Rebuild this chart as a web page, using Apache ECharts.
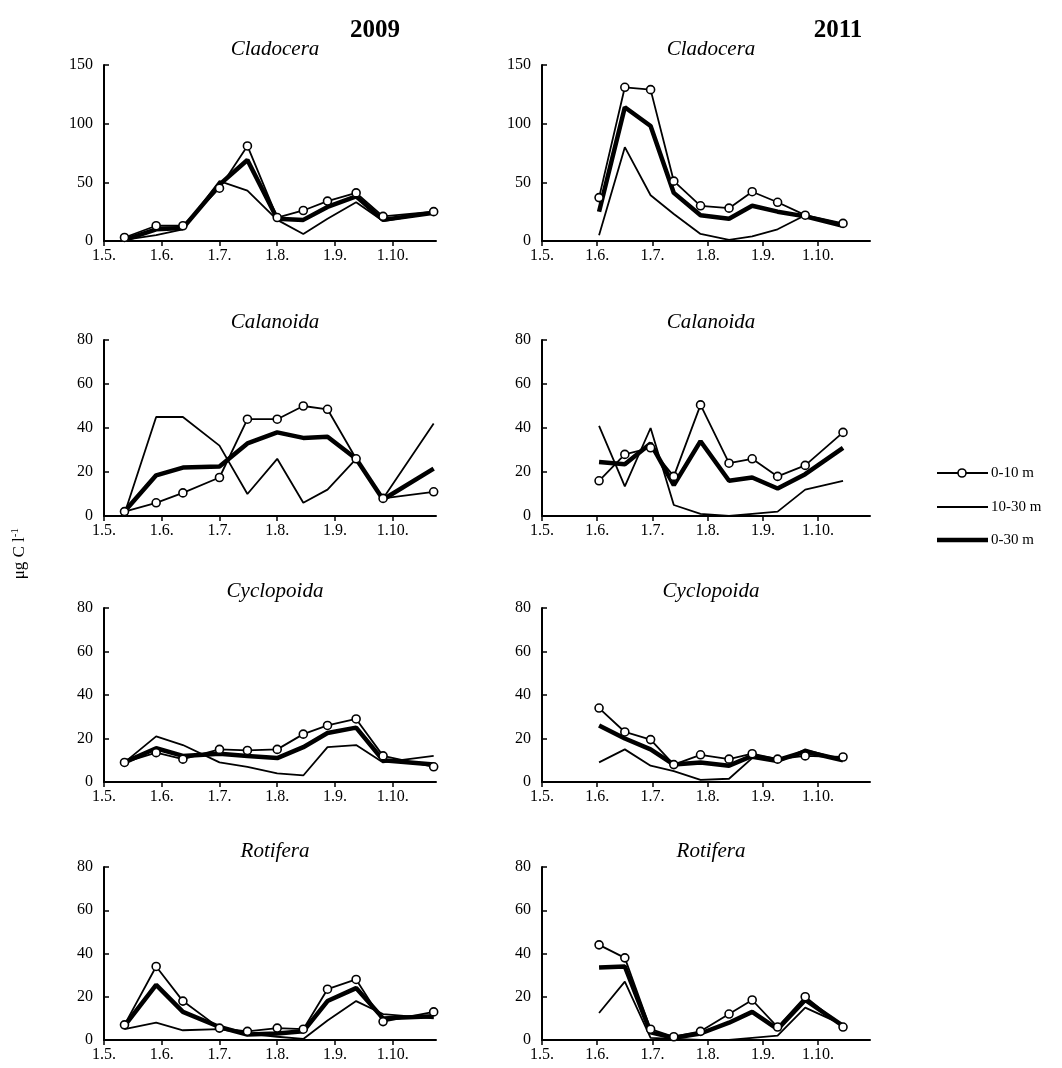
<!DOCTYPE html>
<html>
<head>
<meta charset="utf-8">
<script src="https://cdn.jsdelivr.net/npm/echarts@6/dist/echarts.min.js"></script>
<style>
html,body{margin:0;padding:0;background:#fff;}
#chart{width:1062px;height:1068px;}
</style>
</head>
<body>
<div id="chart"></div>
<script>
// ---------- DATA ----------
const years = ['2009', '2011'];
const taxa = ['Cladocera', 'Calanoida', 'Cyclopoida', 'Rotifera'];
const seriesNames = ['0-10 m', '10-30 m', '0-30 m'];
const monthLabels = ['1.5.', '1.6.', '1.7.', '1.8.', '1.9.', '1.10.'];

const dates2009 = ['12.5.', '29.5.', '12.6.', '1.7.', '16.7.', '1.8.', '15.8.', '28.8.', '12.9.', '26.9.', '23.10.'];
const dates2011 = ['2.6.', '16.6.', '30.6.', '13.7.', '28.7.', '13.8.', '26.8.', '9.9.', '24.9.', '15.10.'];

// Cladocera
const clad09_0_10  = [3, 13, 13, 45, 81, 20, 26, 34, 41, 21, 25];
const clad09_10_30 = [1, 5, 10, 51, 43, 18, 6, 19, 33, 17, 24];
const clad09_0_30  = [1, 10, 11, 48, 69, 19, 18, 29, 38, 18, 24];
const clad11_0_10  = [37, 131, 129, 51, 30, 28, 42, 33, 22, 15];
const clad11_10_30 = [5, 80, 39, 23, 6, 1, 4, 10, 22, 13];
const clad11_0_30  = [25, 114, 98, 41, 22, 19, 30, 25, 21, 13];
// Calanoida
const cal09_0_10  = [2, 6, 10.5, 17.5, 44, 44, 50, 48.5, 26, 8, 11];
const cal09_10_30 = [1, 45, 45, 32, 10, 26, 6, 12, 26, 8, 42];
const cal09_0_30  = [2, 18.5, 22, 22.5, 33, 38, 35.5, 36, 26, 7.5, 21.5];
const cal11_0_10  = [16, 28, 31, 18, 50.5, 24, 26, 18, 23, 38];
const cal11_10_30 = [41, 13.5, 40, 5, 1, 0, 1, 2, 12, 16];
const cal11_0_30  = [24.5, 23.5, 33, 14, 34, 16, 17.5, 12.5, 19, 31];
// Cyclopoida
const cyc09_0_10  = [9, 13.5, 10.5, 15, 14.5, 15, 22, 26, 29, 12, 7];
const cyc09_10_30 = [9, 21, 17, 9, 7, 4, 3, 16, 17, 9, 12];
const cyc09_0_30  = [9, 15.5, 12, 13, 12, 11, 16, 22.5, 25, 10, 8];
const cyc11_0_10  = [34, 23, 19.5, 8, 12.5, 10.5, 13, 10.5, 12, 11.5];
const cyc11_10_30 = [9, 15, 7.5, 5, 1, 1.5, 11, 9, 15, 10];
const cyc11_0_30  = [26, 20, 15, 8, 9, 7.5, 12, 10, 14, 10];
// Rotifera
const rot09_0_10  = [7, 34, 18, 5.5, 4, 5.5, 5, 23.5, 28, 8.5, 13];
const rot09_10_30 = [5, 8, 4.5, 5, 3, 1.5, 0.5, 9, 18, 12, 10];
const rot09_0_30  = [6.5, 25.5, 13, 6, 2.5, 3, 4, 18, 24, 10, 11];
const rot11_0_10  = [44, 38, 5, 1.5, 4, 12, 18.5, 6, 20, 6];
const rot11_10_30 = [12.5, 27, 1, 0.5, 0, 0, 1, 2, 15, 7];
const rot11_0_30  = [33.5, 34, 3.5, 1, 3, 8, 13, 5, 18.5, 6.5];

const yMax = [150, 80, 80, 80];
const yInterval = [50, 20, 20, 20];

// ---------- LAYOUT ----------
const FONT = '"Liberation Serif", "Times New Roman", serif';
const daysIn = {5: 31, 6: 30, 7: 31, 8: 31, 9: 30, 10: 31};
function monthPos(s) {
  const p = s.split('.').map(Number);
  return (p[1] - 5) + (p[0] - 1) / daysIn[p[1]];
}
const colLeft = [104, 542];
const colWidth = [332, 328];
const colMax = [5.75, 5.94];
const rowTop = [65, 340, 608, 867];
const rowHeight = [176, 176, 174, 173];
const titleY = [34, 307, 576, 836];

const allData = [
  [[clad09_0_10, clad09_10_30, clad09_0_30], [clad11_0_10, clad11_10_30, clad11_0_30]],
  [[cal09_0_10, cal09_10_30, cal09_0_30], [cal11_0_10, cal11_10_30, cal11_0_30]],
  [[cyc09_0_10, cyc09_10_30, cyc09_0_30], [cyc11_0_10, cyc11_10_30, cyc11_0_30]],
  [[rot09_0_10, rot09_10_30, rot09_0_30], [rot11_0_10, rot11_10_30, rot11_0_30]]
];
const datesByCol = [dates2009, dates2011];

const grids = [], xAxes = [], yAxes = [], series = [], titles = [];
let gi = 0;
for (let r = 0; r < 4; r++) {
  for (let c = 0; c < 2; c++) {
    grids.push({left: colLeft[c], top: rowTop[r], width: colWidth[c], height: rowHeight[r], containLabel: false});
    xAxes.push({
      type: 'value', gridIndex: gi, min: 0, max: colMax[c], interval: 1,
      axisLine: {show: true, onZero: false, lineStyle: {color: '#000', width: 2}},
      axisTick: {show: true, inside: false, length: 5, lineStyle: {color: '#000', width: 1.5}},
      splitLine: {show: false},
      axisLabel: {
        color: '#000', fontFamily: FONT, fontSize: 16, margin: 7,
        showMaxLabel: false,
        formatter: v => (Math.abs(v - Math.round(v)) < 1e-6 && monthLabels[Math.round(v)]) ? monthLabels[Math.round(v)] : ''
      }
    });
    yAxes.push({
      type: 'value', gridIndex: gi, min: 0, max: yMax[r], interval: yInterval[r],
      axisLine: {show: true, lineStyle: {color: '#000', width: 2}},
      axisTick: {show: true, inside: true, length: 5, lineStyle: {color: '#000', width: 1.5}},
      splitLine: {show: false},
      axisLabel: {color: '#000', fontFamily: FONT, fontSize: 16, margin: 11}
    });
    const vals = allData[r][c];
    const dates = datesByCol[c];
    series.push({
      name: seriesNames[1], type: 'line', xAxisIndex: gi, yAxisIndex: gi, z: 2,
      symbol: 'none', showSymbol: false, animation: false,
      lineStyle: {color: '#000', width: 1.8},
      itemStyle: {color: '#000'},
      data: dates.map((d, i) => [monthPos(d), vals[1][i]])
    });
    series.push({
      name: seriesNames[2], type: 'line', xAxisIndex: gi, yAxisIndex: gi, z: 3,
      symbol: 'none', showSymbol: false, animation: false,
      lineStyle: {color: '#000', width: 4.5},
      itemStyle: {color: '#000'},
      data: dates.map((d, i) => [monthPos(d), vals[2][i]])
    });
    series.push({
      name: seriesNames[0], type: 'line', xAxisIndex: gi, yAxisIndex: gi, z: 4,
      symbol: 'circle', symbolSize: 8, showSymbol: true, animation: false,
      lineStyle: {color: '#000', width: 1.8},
      itemStyle: {color: '#fff', borderColor: '#000', borderWidth: 1.6},
      data: dates.map((d, i) => [monthPos(d), vals[0][i]])
    });
    titles.push({
      text: taxa[r], left: colLeft[c] + colWidth[c] / 2, top: titleY[r], textAlign: 'center',
      textStyle: {fontFamily: FONT, fontSize: 21, fontStyle: 'italic', fontWeight: 'normal', color: '#000'}
    });
    gi++;
  }
}
titles.push({text: years[0], left: 370, top: 13, textAlign: 'center',
  textStyle: {fontFamily: FONT, fontSize: 25, fontWeight: 'bold', color: '#000'}});
titles.push({text: years[1], left: 833, top: 13, textAlign: 'center',
  textStyle: {fontFamily: FONT, fontSize: 25, fontWeight: 'bold', color: '#000'}});

// custom legend (graphic)
const legY = [473, 507, 540];
const legW = [1.8, 1.8, 4.5];
const legendGraphics = [];
for (let k = 0; k < 3; k++) {
  legendGraphics.push({type: 'line', shape: {x1: 937, y1: legY[k], x2: 988, y2: legY[k]},
    style: {stroke: '#000', lineWidth: legW[k]}, silent: true});
  legendGraphics.push({type: 'text', x: 991, y: legY[k],
    style: {text: seriesNames[k], fill: '#000', font: '15px ' + FONT, verticalAlign: 'middle', align: 'left'}, silent: true});
}
legendGraphics.push({type: 'circle', shape: {cx: 962, cy: legY[0], r: 4},
  style: {fill: '#fff', stroke: '#000', lineWidth: 1.6}, z: 10, silent: true});

const chart = echarts.init(document.getElementById('chart'), null, {renderer: 'canvas'});
chart.setOption({
  backgroundColor: '#fff',
  animation: false,
  title: titles,
  grid: grids,
  xAxis: xAxes,
  yAxis: yAxes,
  series: series,
  graphic: legendGraphics.concat([{
    type: 'text', left: 10, top: 528, rotation: Math.PI / 2,
    style: {
      text: '{a|μg C l}{b|-1}', fill: '#000',
      rich: {a: {fontFamily: FONT, fontSize: 17, fill: '#000'}, b: {fontFamily: FONT, fontSize: 11, fill: '#000', verticalAlign: 'top', padding: [0, 0, 8, 0]}}
    }
  }])
});
</script>
</body>
</html>
